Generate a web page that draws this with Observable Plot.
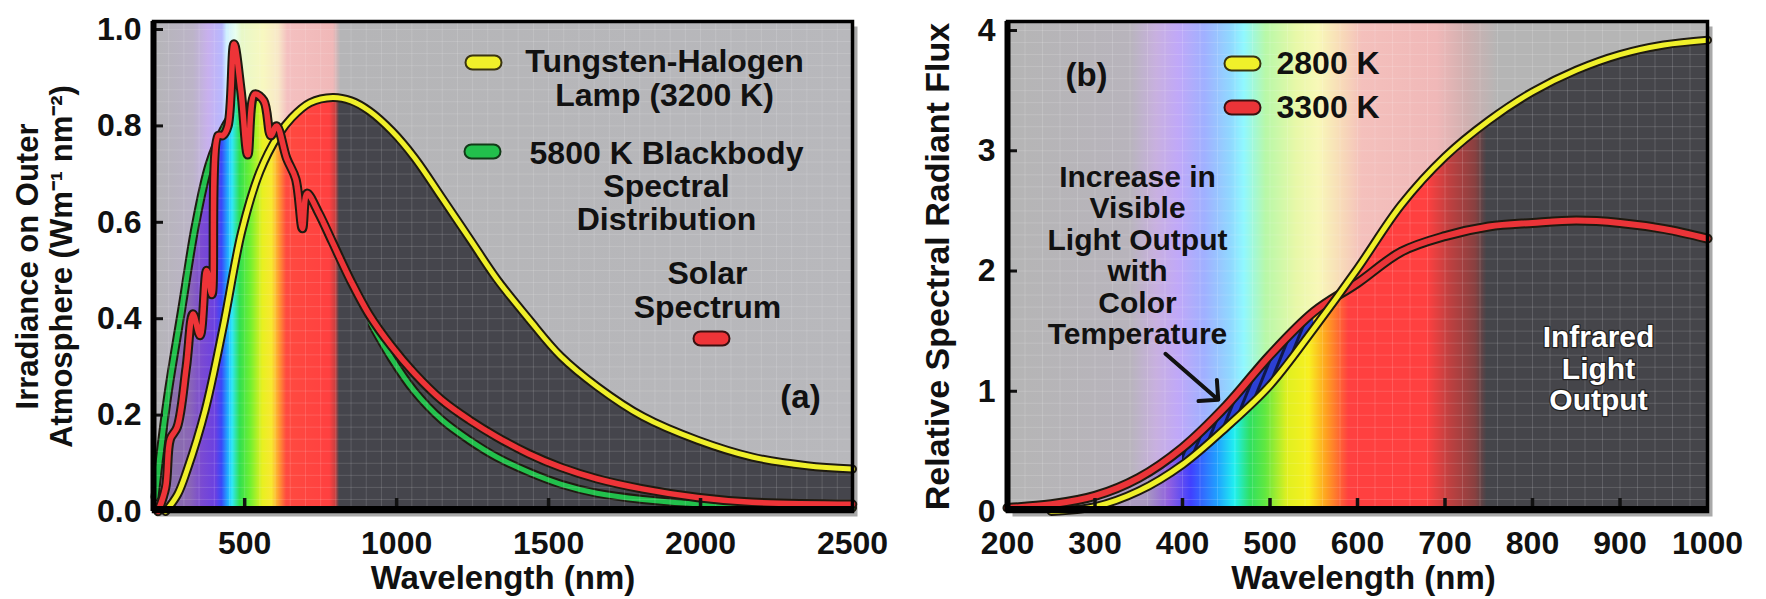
<!DOCTYPE html>
<html><head><meta charset="utf-8">
<script src="https://cdn.jsdelivr.net/npm/d3@7"></script>
<script src="https://cdn.jsdelivr.net/npm/@observablehq/plot@0.6"></script>
<style>
html,body{margin:0;padding:0;background:#fff;}
#wrap{position:relative;width:1766px;height:599px;overflow:hidden;background:#fff;}
#wrap svg{position:absolute;top:0;}
</style></head><body><div id="wrap"></div>
<script>
// ---------- Panel (a): irradiance (W m^-1 nm^-2) vs wavelength (nm) ----------
const tungstenNm  = [240, 280, 310, 370, 430, 490, 550, 610, 655, 715, 790, 850, 910, 985, 1060, 1150, 1240, 1330, 1435, 1540, 1660, 1810, 1990, 2170, 2350, 2500];
const tungstenIrr = [0.0, 0.036, 0.085, 0.21, 0.385, 0.58, 0.705, 0.78, 0.817, 0.848, 0.859, 0.852, 0.831, 0.789, 0.733, 0.65, 0.566, 0.482, 0.399, 0.322, 0.259, 0.197, 0.148, 0.113, 0.095, 0.088];

const blackbodyNm  = [205, 218, 248, 293, 338, 383, 428, 460, 490, 550, 620, 690, 750, 850, 908, 983, 1058, 1149, 1239, 1329, 1434, 1539, 1659, 1809, 1990, 2500];
const blackbodyIrr = [0.03, 0.10, 0.245, 0.42, 0.594, 0.72, 0.79, 0.82, 0.82, 0.79, 0.72, 0.64, 0.58, 0.47, 0.40, 0.318, 0.25, 0.19, 0.148, 0.113, 0.082, 0.057, 0.038, 0.025, 0.016, 0.008];

const solarNm  = [215, 240, 255, 278, 308, 330, 353, 375, 392, 413, 428, 445, 465, 488, 510, 533, 563, 586, 605, 638, 668, 690, 705, 743, 788, 848, 908, 983, 1058, 1149, 1239, 1329, 1434, 1539, 1659, 1809, 1990, 2169, 2500];
const solarIrr = [0.0, 0.05, 0.15, 0.175, 0.30, 0.41, 0.365, 0.50, 0.45, 0.78, 0.78, 0.80, 0.97, 0.872, 0.74, 0.866, 0.852, 0.78, 0.80, 0.733, 0.69, 0.587, 0.66, 0.62, 0.56, 0.48, 0.41, 0.343, 0.287, 0.231, 0.19, 0.155, 0.12, 0.092, 0.068, 0.047, 0.029, 0.019, 0.015];

const xTicksA = [500, 1000, 1500, 2000, 2500];
const yTicksA = [0, 0.2, 0.4, 0.6, 0.8, 1.0];
const legendA = ["Tungsten-Halogen\nLamp (3200 K)", "5800 K Blackbody\nSpectral\nDistribution", "Solar\nSpectrum"];

// ---------- Panel (b): relative spectral radiant flux ----------
const fluxNm   = [200, 250, 300, 350, 400, 450, 500, 550, 600, 650, 700, 750, 800, 850, 900, 950, 1000];
const flux2800 = [null, 0.0, 0.04, 0.17, 0.39, 0.70, 1.05, 1.52, 2.02, 2.55, 2.95, 3.25, 3.49, 3.67, 3.80, 3.88, 3.92];
const flux3300 = [0.03, 0.06, 0.13, 0.28, 0.53, 0.88, 1.30, 1.66, 1.90, 2.16, 2.29, 2.37, 2.40, 2.42, 2.40, 2.35, 2.27];
const hatchNm  = [400, 550];
const arrowNm  = 450;
const xTicksB = [200, 300, 400, 500, 600, 700, 800, 900, 1000];
const yTicksB = [0, 1, 2, 3, 4];
const legendB = ["2800 K", "3300 K"];
const notesB = ["Increase in\nVisible\nLight Output\nwith\nColor\nTemperature", "Infrared\nLight\nOutput"];

// ---------- spectrum stops (nm) and colours (style) ----------
const satStopsA = [200, 320, 360, 405, 425, 445, 460, 485, 520, 560, 590, 612, 638, 780, 800, 812, 2500];
const satColsA  = ["#8a7c9c", "#8a66b6", "#7a4ad2", "#6a40e2", "#3a48f8", "#20a8ff", "#30e8f8", "#30e050", "#70f030", "#e8f020", "#f8e830", "#ffa030", "#ff4a40", "#ff4040", "#c84040", "#45454c", "#45454c"];
const pasStopsA = [200, 330, 380, 425, 440, 470, 490, 560, 610, 640, 790, 815, 2500];
const pasColsA  = ["#b5b5b7", "#bcb4c8", "#c8b0ee", "#b8b8ff", "#d0f0ff", "#e8fff0", "#e8f8c8", "#f8f8c0", "#f8e8c8", "#f4c0c0", "#f0b8b8", "#b5b5b7", "#b8b8bc"];
const satStopsB = [200, 360, 385, 410, 440, 460, 478, 495, 520, 545, 565, 590, 680, 705, 735, 748, 1000];
const satColsB  = ["#c0b0bc", "#a898c0", "#9060e0", "#4040ff", "#20a0ff", "#20f0f0", "#30e060", "#60e840", "#e0f020", "#f8f020", "#ffa020", "#ff4040", "#ff4040", "#c04040", "#884040", "#45454a", "#45454a"];
const pasStopsB = [200, 340, 370, 395, 425, 455, 470, 495, 530, 555, 580, 605, 690, 725, 760, 1000];
const pasColsB  = ["#b5b5b5", "#b8b4bc", "#c8b0e0", "#c0a8f8", "#a0b0ff", "#90d8ff", "#90f8ff", "#b8f8a8", "#e8f8a8", "#f8f8b8", "#f8dcb8", "#f4c0bc", "#f0b8b8", "#d0b0b0", "#b5b5b5", "#b5b5b5"];

const FONT = "'Liberation Sans', Arial, Helvetica, sans-serif";
const INK = "#111";

function pill(w, h) {
  return {draw(ctx) {
    const r = h / 2, a = w / 2 - r;
    ctx.moveTo(-a, -r); ctx.lineTo(a, -r);
    ctx.arc(a, 0, r, -Math.PI / 2, Math.PI / 2);
    ctx.lineTo(-a, r);
    ctx.arc(-a, 0, r, Math.PI / 2, 3 * Math.PI / 2);
    ctx.closePath();
  }};
}
function idx(Y) { return d3.range(Y.length).filter(i => Y[i] != null); }
function outlined(X, Y, color, curve, w) {
  const I = idx(Y);
  return [
    Plot.line(I, {x: i => X[i], y: i => Y[i], stroke: "#1e1a10", strokeWidth: w + 4, curve, strokeLinejoin: "round", strokeLinecap: "round"}),
    Plot.line(I, {x: i => X[i], y: i => Y[i], stroke: color, strokeWidth: w, curve, strokeLinejoin: "round", strokeLinecap: "round"})
  ];
}
function under(X, Y, fill, curve, maxNm = Infinity) {
  const I = idx(Y).filter(i => X[i] <= maxNm);
  return Plot.areaY(I, {x: i => X[i], y: i => Y[i], fill, curve});
}
function addGradient(svg, id, stops, cols) {
  const xs = svg.scale("x");
  let defs = d3.select(svg).select("defs.mydefs");
  if (defs.empty()) defs = d3.select(svg).insert("defs", ":first-child").attr("class", "mydefs");
  const x1 = xs.apply(stops[0]), x2 = xs.apply(stops[stops.length - 1]);
  const g = defs.append("linearGradient").attr("id", id).attr("gradientUnits", "userSpaceOnUse")
    .attr("x1", x1).attr("x2", x2).attr("y1", 0).attr("y2", 0);
  stops.forEach((s, i) => g.append("stop").attr("offset", (xs.apply(s) - x1) / (x2 - x1)).attr("stop-color", cols[i]));
  return defs;
}
const styleObj = {background: "transparent", overflow: "visible", fontFamily: FONT, fontWeight: "bold", color: INK};

// ---------------- Panel (a) ----------------
const frameWA = 880 - 153 - 28, frameHA = 599 - 21 - 88;
const curveS = "catmull-rom";
const plotA = Plot.plot({
  width: 880, height: 599, marginLeft: 153, marginRight: 28, marginTop: 21, marginBottom: 88,
  x: {domain: [200, 2500], label: null},
  y: {domain: [0, 1.0166], label: null},
  style: styleObj,
  marks: [
    Plot.frame({fill: "#8c8c8c", fillOpacity: 0.75, dx: 5, dy: 5}),
    Plot.frame({fill: "url(#pasA)"}),
    under(tungstenNm, tungstenIrr, "url(#satA)", curveS),
    under(blackbodyNm, blackbodyIrr, "url(#satA)", curveS),
    under(solarNm, solarIrr, "url(#satA)", curveS),
    outlined(blackbodyNm, blackbodyIrr, "#22c04c", curveS, 5),
    // the solar spectrum's fill covers the blackbody curve where the sun lies above it
    under(solarNm, solarIrr, "url(#satA)", curveS, 908),
    Plot.ruleX(d3.range(250, 2500, 50), {stroke: "#fff", strokeOpacity: 0.14}),
    Plot.ruleY(d3.range(0.025, 1.01, 0.025), {stroke: "#fff", strokeOpacity: 0.14}),
    outlined(tungstenNm, tungstenIrr, "#f0f02a", curveS, 5),
    outlined(solarNm, solarIrr, "#ee3438", curveS, 5.5),
    Plot.tickX(xTicksA.slice(0, -1), {x: d => d, insetTop: frameHA - 13, stroke: INK, strokeWidth: 3.5}),
    Plot.tickY(yTicksA.slice(1), {y: d => d, insetRight: frameWA - 10, stroke: INK, strokeWidth: 3}),
    Plot.frame({stroke: "#000", strokeWidth: 3.5}),
    Plot.ruleY([0], {stroke: "#000", strokeWidth: 7, dy: -2}),
    Plot.ruleX([200], {stroke: "#000", strokeWidth: 6}),
    Plot.axisX({ticks: xTicksA, tickSize: 0, tickPadding: 20, tickFormat: d => String(d), fontSize: 32, fontWeight: "bold", fontFamily: FONT, label: null}),
    Plot.axisY({ticks: yTicksA, tickSize: 0, tickPadding: 12, tickFormat: d3.format(".1f"), fontSize: 32, fontWeight: "bold", fontFamily: FONT, label: null}),
    Plot.text(["Wavelength (nm)"], {frameAnchor: "bottom", dy: 67, fontSize: 33, fontWeight: "bold", lineAnchor: "middle", fill: INK}),
    Plot.text(["Irradiance on Outer\nAtmosphere (Wm\u207B\u00B9 nm\u207B\u00B2)"], {frameAnchor: "left", rotate: -90, dx: -109, fontSize: 31, lineHeight: 1.08, fontWeight: "bold", textAnchor: "middle", lineAnchor: "middle", fill: INK}),
    // legend
    Plot.dot([legendA[0]], {frameAnchor: "top-left", dx: 330, dy: 41, symbol: pill(36, 14), fill: "#f0f02a", stroke: "#3a3410", strokeWidth: 2}),
    Plot.dot([legendA[1]], {frameAnchor: "top-left", dx: 329, dy: 130, symbol: pill(36, 14), fill: "#22c04c", stroke: "#123a18", strokeWidth: 2}),
    Plot.dot([legendA[2]], {frameAnchor: "top-left", dx: 558, dy: 317, symbol: pill(36, 14), fill: "#ee3438", stroke: "#3a1010", strokeWidth: 2}),
    Plot.text([legendA[0]], {frameAnchor: "top-left", dx: 511, dy: 57, fontSize: 32, lineHeight: 1.06, fontWeight: "bold", textAnchor: "middle", lineAnchor: "middle", fill: INK}),
    Plot.text([legendA[1]], {frameAnchor: "top-left", dx: 513, dy: 165, fontSize: 32, lineHeight: 1.02, fontWeight: "bold", textAnchor: "middle", lineAnchor: "middle", fill: INK}),
    Plot.text([legendA[2]], {frameAnchor: "top-left", dx: 554, dy: 269, fontSize: 32, lineHeight: 1.06, fontWeight: "bold", textAnchor: "middle", lineAnchor: "middle", fill: INK}),
    Plot.text(["(a)"], {frameAnchor: "top-left", dx: 647, dy: 376, fontSize: 33, fontWeight: "bold", textAnchor: "middle", lineAnchor: "middle", fill: INK})
  ]
});
plotA.style.left = "0px";
addGradient(plotA, "satA", satStopsA, satColsA);
addGradient(plotA, "pasA", pasStopsA, pasColsA);

// ---------------- Panel (b) ----------------
const frameWB = 886 - 127 - 59, frameHB = 599 - 21 - 88;
const hatchIdx = d3.range(fluxNm.length).filter(i => fluxNm[i] >= hatchNm[0] && fluxNm[i] <= hatchNm[1]);
const arrowIdx = fluxNm.indexOf(arrowNm);
const plotB = Plot.plot({
  width: 886, height: 599, marginLeft: 127, marginRight: 59, marginTop: 21, marginBottom: 88,
  x: {domain: [200, 1000], label: null},
  y: {domain: [0, 4.075], label: null},
  style: styleObj,
  marks: [
    Plot.frame({fill: "#8c8c8c", fillOpacity: 0.75, dx: 5, dy: 5}),
    Plot.frame({fill: "url(#pasB)"}),
    under(fluxNm, flux3300, "url(#satB)", curveS),
    under(fluxNm, flux2800, "url(#satB)", curveS),
    Plot.ruleX(d3.range(220, 1000, 20), {stroke: "#fff", strokeOpacity: 0.15}),
    Plot.ruleY(d3.range(0.1, 4.05, 0.1), {stroke: "#fff", strokeOpacity: 0.15}),
    Plot.areaY(hatchIdx, {x: i => fluxNm[i], y1: i => flux2800[i], y2: i => flux3300[i], fill: "url(#hatchB)", curve: curveS}),
    outlined(fluxNm, flux3300, "#ea3438", curveS, 6),
    outlined(fluxNm, flux2800, "#f0f02a", curveS, 5),
    Plot.vector([arrowIdx], {x: i => fluxNm[i], y: i => flux3300[i], anchor: "end", rotate: 131, length: 70, dx: -8, dy: -6, stroke: INK, strokeWidth: 4}),
    Plot.tickX(xTicksB.slice(1, -1), {x: d => d, insetTop: frameHB - 13, stroke: INK, strokeWidth: 3.5}),
    Plot.tickY(yTicksB.slice(1), {y: d => d, insetRight: frameWB - 10, stroke: INK, strokeWidth: 3}),
    Plot.frame({stroke: "#000", strokeWidth: 3.5}),
    Plot.ruleY([0], {stroke: "#000", strokeWidth: 7, dy: -2}),
    Plot.ruleX([200], {stroke: "#000", strokeWidth: 6}),
    Plot.axisX({ticks: xTicksB, tickSize: 0, tickPadding: 20, tickFormat: d => String(d), fontSize: 32, fontWeight: "bold", fontFamily: FONT, label: null}),
    Plot.axisY({ticks: yTicksB, tickSize: 0, tickPadding: 12, tickFormat: d => String(d), fontSize: 32, fontWeight: "bold", fontFamily: FONT, label: null}),
    Plot.text(["Wavelength (nm)"], {frameAnchor: "bottom", dy: 67, dx: 6, fontSize: 33, fontWeight: "bold", lineAnchor: "middle", fill: INK}),
    Plot.text(["Relative Spectral Radiant Flux"], {frameAnchor: "left", rotate: -90, dx: -69, fontSize: 34, fontWeight: "bold", textAnchor: "middle", lineAnchor: "middle", fill: INK}),
    Plot.text(["(b)"], {frameAnchor: "top-left", dx: 79, dy: 54, fontSize: 33, fontWeight: "bold", textAnchor: "middle", lineAnchor: "middle", fill: INK}),
    Plot.dot([legendB[0]], {frameAnchor: "top-left", dx: 235, dy: 42, symbol: pill(36, 14), fill: "#f0f02a", stroke: "#3a3410", strokeWidth: 2}),
    Plot.dot([legendB[1]], {frameAnchor: "top-left", dx: 235, dy: 86, symbol: pill(36, 14), fill: "#ea3438", stroke: "#3a1010", strokeWidth: 2}),
    Plot.text([legendB[0]], {frameAnchor: "top-left", dx: 269, dy: 42, fontSize: 32, fontWeight: "bold", textAnchor: "start", lineAnchor: "middle", fill: INK}),
    Plot.text([legendB[1]], {frameAnchor: "top-left", dx: 269, dy: 86, fontSize: 32, fontWeight: "bold", textAnchor: "start", lineAnchor: "middle", fill: INK}),
    Plot.text([notesB[0]], {frameAnchor: "top-left", dx: 130, dy: 234, fontSize: 30, lineHeight: 1.05, fontWeight: "bold", textAnchor: "middle", lineAnchor: "middle", fill: INK}),
    Plot.text([notesB[1]], {frameAnchor: "top-left", dx: 591, dy: 347, fontSize: 30, lineHeight: 1.05, fontWeight: "bold", textAnchor: "middle", lineAnchor: "middle", fill: "#fff", stroke: "#222", strokeWidth: 2.5})
  ]
});
plotB.style.left = "880px";
addGradient(plotB, "satB", satStopsB, satColsB);
const defsB = addGradient(plotB, "pasB", pasStopsB, pasColsB);
const pat = defsB.append("pattern").attr("id", "hatchB").attr("patternUnits", "userSpaceOnUse")
  .attr("width", 9).attr("height", 9).attr("patternTransform", "rotate(22)");
pat.append("rect").attr("width", 9).attr("height", 9).attr("fill", "#2c40d4");
pat.append("line").attr("x1", 1.5).attr("y1", 0).attr("x2", 1.5).attr("y2", 9).attr("stroke", "#101848").attr("stroke-width", 3);

const wrap = document.getElementById("wrap");
wrap.appendChild(plotA);
wrap.appendChild(plotB);
</script>
</body></html>
